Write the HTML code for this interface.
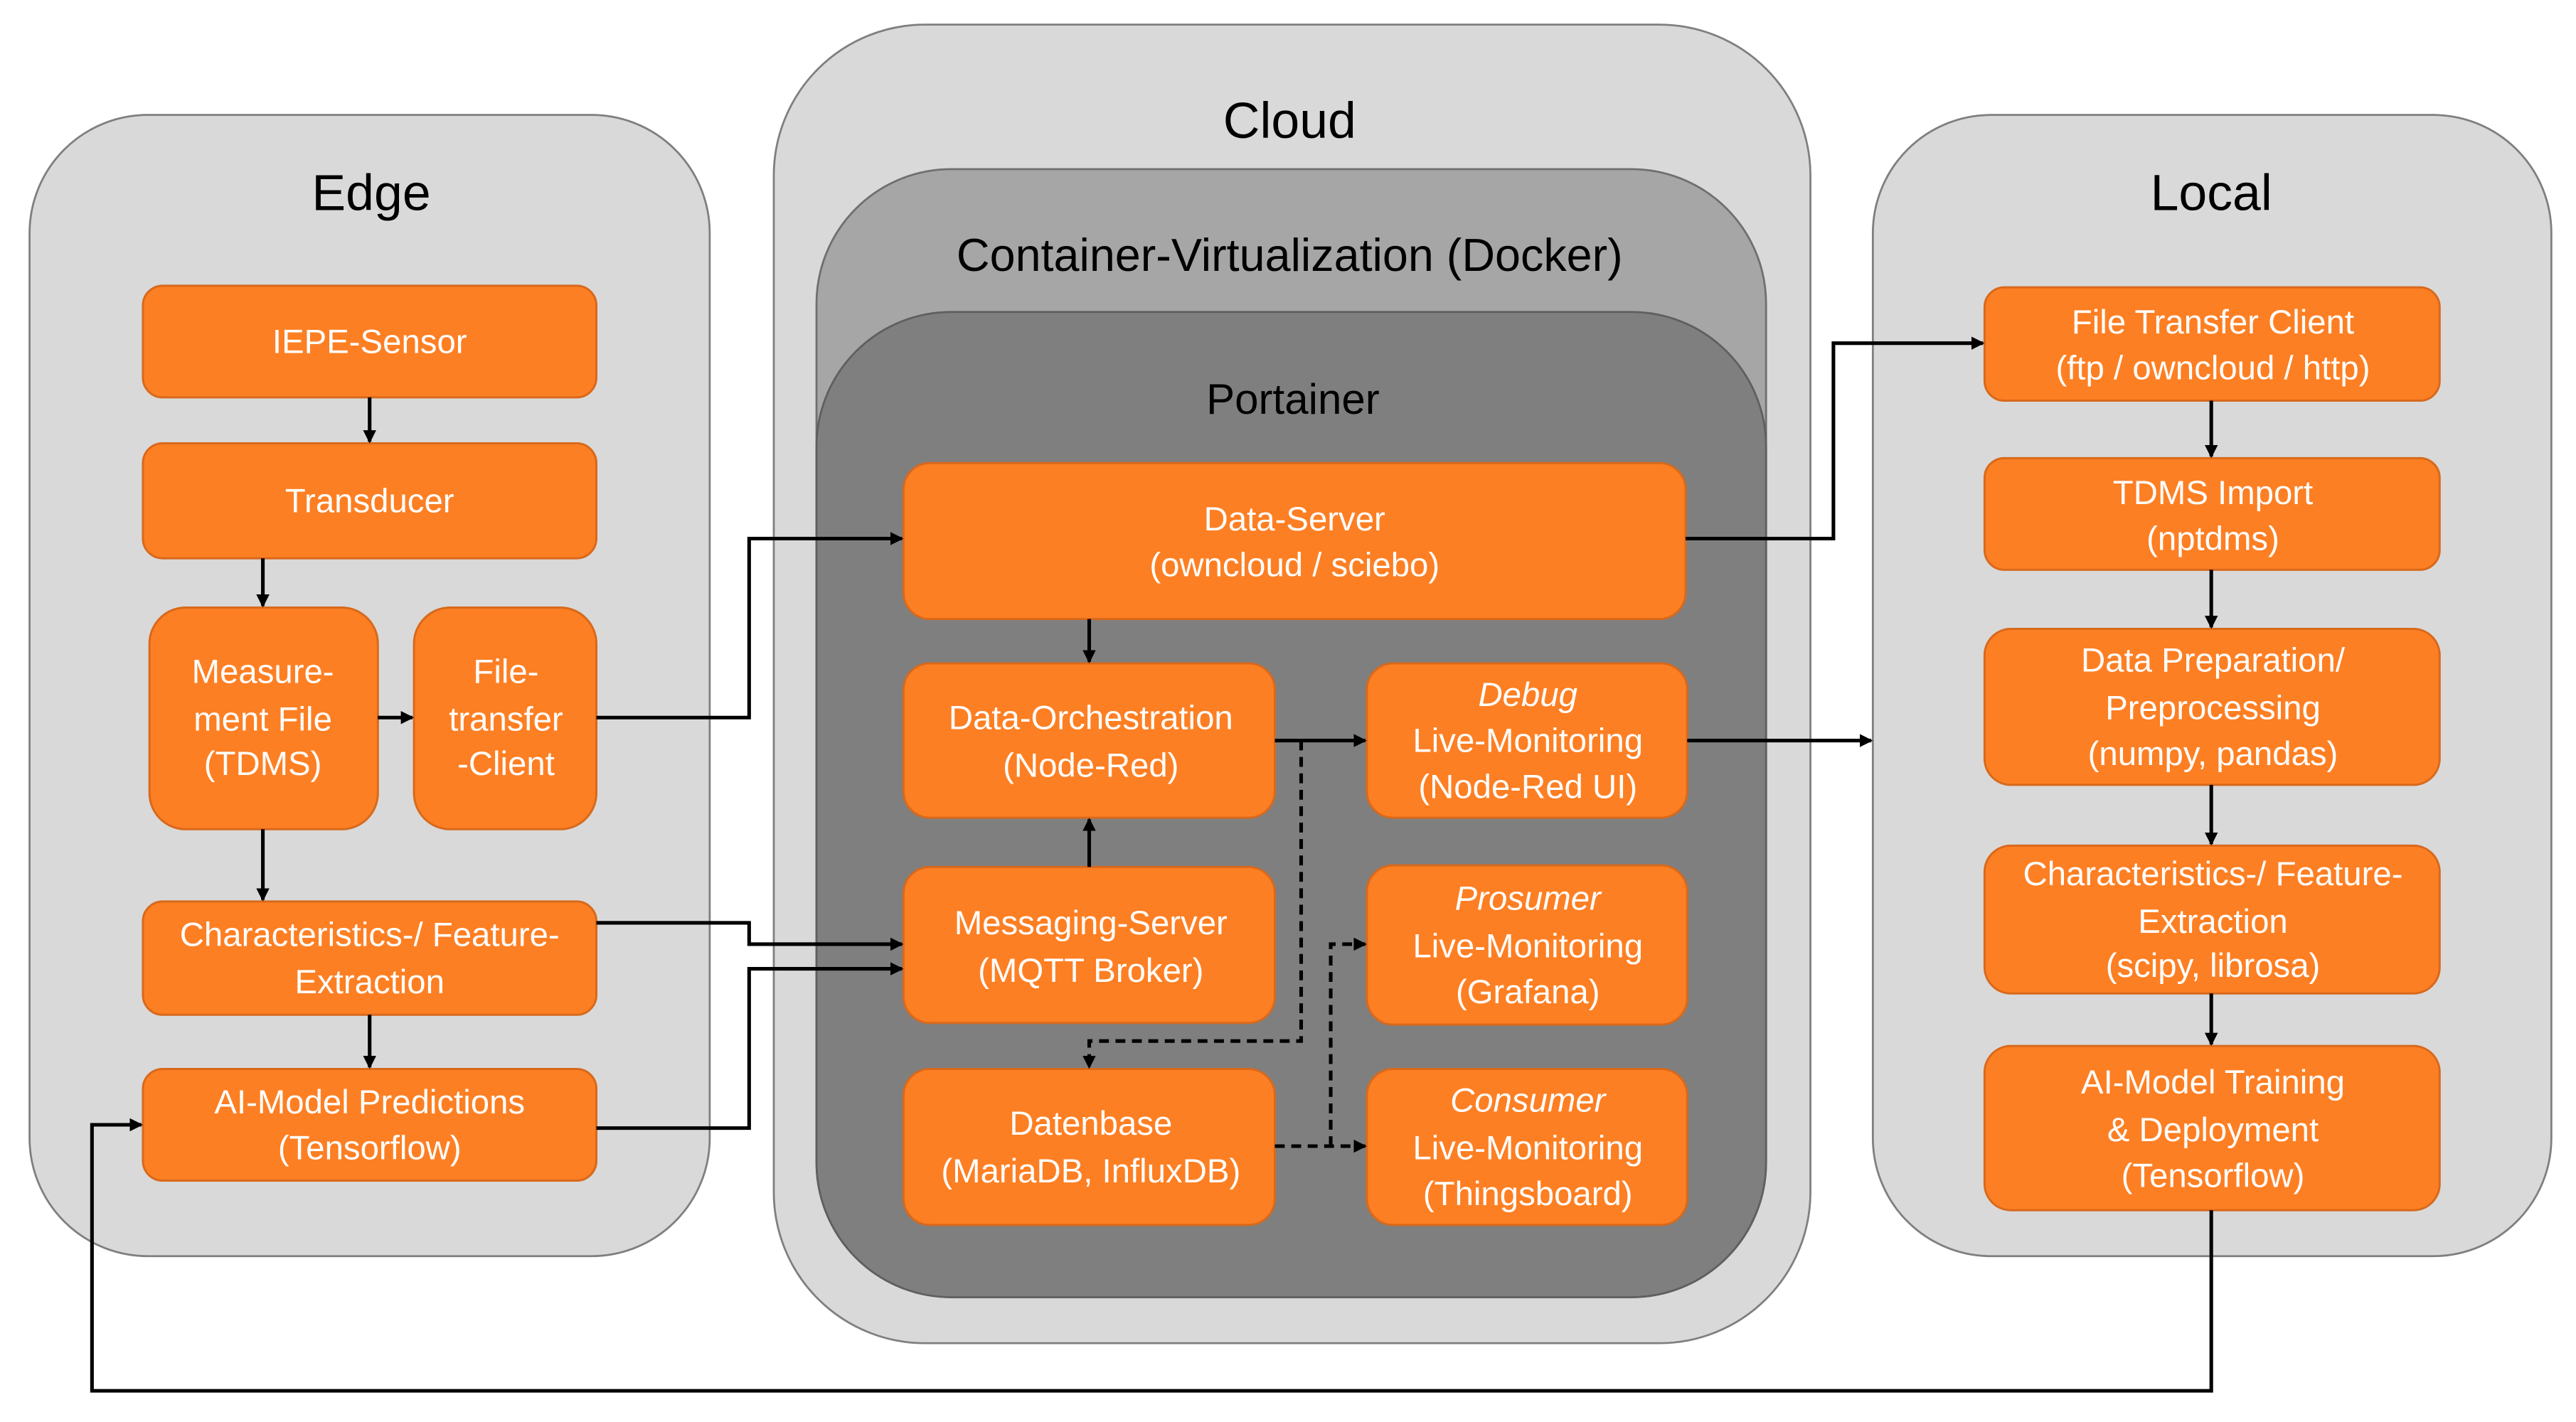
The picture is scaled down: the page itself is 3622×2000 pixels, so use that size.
<!DOCTYPE html>
<html><head><meta charset="utf-8"><style>
html,body{margin:0;padding:0;background:#fff;width:3622px;height:2000px;overflow:hidden}
svg{display:block}
text{font-family:"Liberation Sans",sans-serif;text-anchor:middle}
.o{fill:#FD7F23;stroke:#D8691C;stroke-width:1.3}
.t{fill:#fff;font-size:20.5px}
.i{font-style:italic}
.h{fill:#000}
.l{stroke:#000;stroke-width:2.2;fill:none}
.d{stroke:#000;stroke-width:2.2;fill:none;stroke-dasharray:6,4}
</style></head><body>
<svg width="3622" height="2000" viewBox="0 0 1568 866" preserveAspectRatio="none" xmlns="http://www.w3.org/2000/svg">
<defs><marker id="a" markerWidth="8" markerHeight="8" refX="7" refY="4" orient="auto" markerUnits="userSpaceOnUse"><path d="M0,0 L8,4 L0,8 z" fill="#000"/></marker></defs>
<rect x="18" y="70" width="414" height="695" rx="72" fill="#D9D9D9" stroke="#7f7f7f" stroke-width="1.2"/>
<rect x="1140" y="70" width="413" height="695" rx="72" fill="#D9D9D9" stroke="#7f7f7f" stroke-width="1.2"/>
<rect x="471" y="15" width="631" height="803" rx="92" fill="#D9D9D9" stroke="#7f7f7f" stroke-width="1.2"/>
<rect x="497" y="103" width="578" height="687" rx="82" fill="#A6A6A6" stroke="#6f6f6f" stroke-width="1.2"/>
<rect x="497" y="190" width="578" height="600" rx="82" fill="#7F7F7F" stroke="#5f5f5f" stroke-width="1.2"/>
<text x="226" y="128" class="h" font-size="31">Edge</text>
<text x="1346" y="128" class="h" font-size="31">Local</text>
<text x="785" y="84" class="h" font-size="31">Cloud</text>
<text x="785" y="165" class="h" font-size="28">Container-Virtualization (Docker)</text>
<text x="787" y="252" class="h" font-size="26">Portainer</text>
<rect class="o" x="87" y="174" width="276" height="68" rx="12"/><text class="t" x="225" y="215">IEPE-Sensor</text>
<rect class="o" x="87" y="270" width="276" height="70" rx="12"/><text class="t" x="225" y="312">Transducer</text>
<rect class="o" x="91" y="370" width="139" height="135" rx="22"/><text class="t" x="160" y="416">Measure-</text><text class="t" x="160" y="445">ment File</text><text class="t" x="160" y="472">(TDMS)</text>
<rect class="o" x="252" y="370" width="111" height="135" rx="22"/><text class="t" x="308" y="416">File-</text><text class="t" x="308" y="445">transfer</text><text class="t" x="308" y="472">-Client</text>
<rect class="o" x="87" y="549" width="276" height="69" rx="12"/><text class="t" x="225" y="576">Characteristics-/ Feature-</text><text class="t" x="225" y="605">Extraction</text>
<rect class="o" x="87" y="651" width="276" height="68" rx="12"/><text class="t" x="225" y="678">AI-Model Predictions</text><text class="t" x="225" y="706">(Tensorflow)</text>
<rect class="o" x="550" y="282" width="476" height="95" rx="16"/><text class="t" x="788" y="323">Data-Server</text><text class="t" x="788" y="351">(owncloud / sciebo)</text>
<rect class="o" x="550" y="404" width="226" height="94" rx="16"/><text class="t" x="664" y="444">Data-Orchestration</text><text class="t" x="664" y="473">(Node-Red)</text>
<rect class="o" x="832" y="404" width="195" height="94" rx="16"/><text class="t i" x="930" y="430">Debug</text><text class="t" x="930" y="458">Live-Monitoring</text><text class="t" x="930" y="486">(Node-Red UI)</text>
<rect class="o" x="550" y="528" width="226" height="95" rx="16"/><text class="t" x="664" y="569">Messaging-Server</text><text class="t" x="664" y="598">(MQTT Broker)</text>
<rect class="o" x="832" y="527" width="195" height="97" rx="16"/><text class="t i" x="930" y="554">Prosumer</text><text class="t" x="930" y="583">Live-Monitoring</text><text class="t" x="930" y="611">(Grafana)</text>
<rect class="o" x="550" y="651" width="226" height="95" rx="16"/><text class="t" x="664" y="691">Datenbase</text><text class="t" x="664" y="720">(MariaDB, InfluxDB)</text>
<rect class="o" x="832" y="651" width="195" height="95" rx="16"/><text class="t i" x="930" y="677">Consumer</text><text class="t" x="930" y="706">Live-Monitoring</text><text class="t" x="930" y="734">(Thingsboard)</text>
<rect class="o" x="1208" y="175" width="277" height="69" rx="12"/><text class="t" x="1347" y="203">File Transfer Client</text><text class="t" x="1347" y="231">(ftp / owncloud / http)</text>
<rect class="o" x="1208" y="279" width="277" height="68" rx="12"/><text class="t" x="1347" y="307">TDMS Import</text><text class="t" x="1347" y="335">(nptdms)</text>
<rect class="o" x="1208" y="383" width="277" height="95" rx="16"/><text class="t" x="1347" y="409">Data Preparation/</text><text class="t" x="1347" y="438">Preprocessing</text><text class="t" x="1347" y="466">(numpy, pandas)</text>
<rect class="o" x="1208" y="515" width="277" height="90" rx="16"/><text class="t" x="1347" y="539">Characteristics-/ Feature-</text><text class="t" x="1347" y="568">Extraction</text><text class="t" x="1347" y="595">(scipy, librosa)</text>
<rect class="o" x="1208" y="637" width="277" height="100" rx="16"/><text class="t" x="1347" y="666">AI-Model Training</text><text class="t" x="1347" y="695">&amp; Deployment</text><text class="t" x="1347" y="723">(Tensorflow)</text>
<path class="l" d="M225,242 V269" marker-end="url(#a)"/>
<path class="l" d="M160,340 V369" marker-end="url(#a)"/>
<path class="l" d="M230,437 H251" marker-end="url(#a)"/>
<path class="l" d="M160,505 V548" marker-end="url(#a)"/>
<path class="l" d="M225,618 V650" marker-end="url(#a)"/>
<path class="l" d="M363,437 H456 V328 H549" marker-end="url(#a)"/>
<path class="l" d="M363,562 H456 V575 H549" marker-end="url(#a)"/>
<path class="l" d="M363,687 H456 V590 H549" marker-end="url(#a)"/>
<path class="l" d="M663,377 V403" marker-end="url(#a)"/>
<path class="l" d="M663,528 V499" marker-end="url(#a)"/>
<path class="l" d="M776,451 H831" marker-end="url(#a)"/>
<path class="d" d="M792,451 V634 H663 V650" marker-end="url(#a)"/>
<path class="d" d="M776,698 H831" marker-end="url(#a)"/>
<path class="d" d="M810,698 V575 H831" marker-end="url(#a)"/>
<path class="l" d="M1027,451 H1139" marker-end="url(#a)"/>
<path class="l" d="M1026,328 H1116 V209 H1207" marker-end="url(#a)"/>
<path class="l" d="M1346,244 V278" marker-end="url(#a)"/>
<path class="l" d="M1346,347 V382" marker-end="url(#a)"/>
<path class="l" d="M1346,478 V514" marker-end="url(#a)"/>
<path class="l" d="M1346,605 V636" marker-end="url(#a)"/>
<path class="l" d="M1346,737 V847 H56 V685 H86" marker-end="url(#a)"/>
</svg>
</body></html>
